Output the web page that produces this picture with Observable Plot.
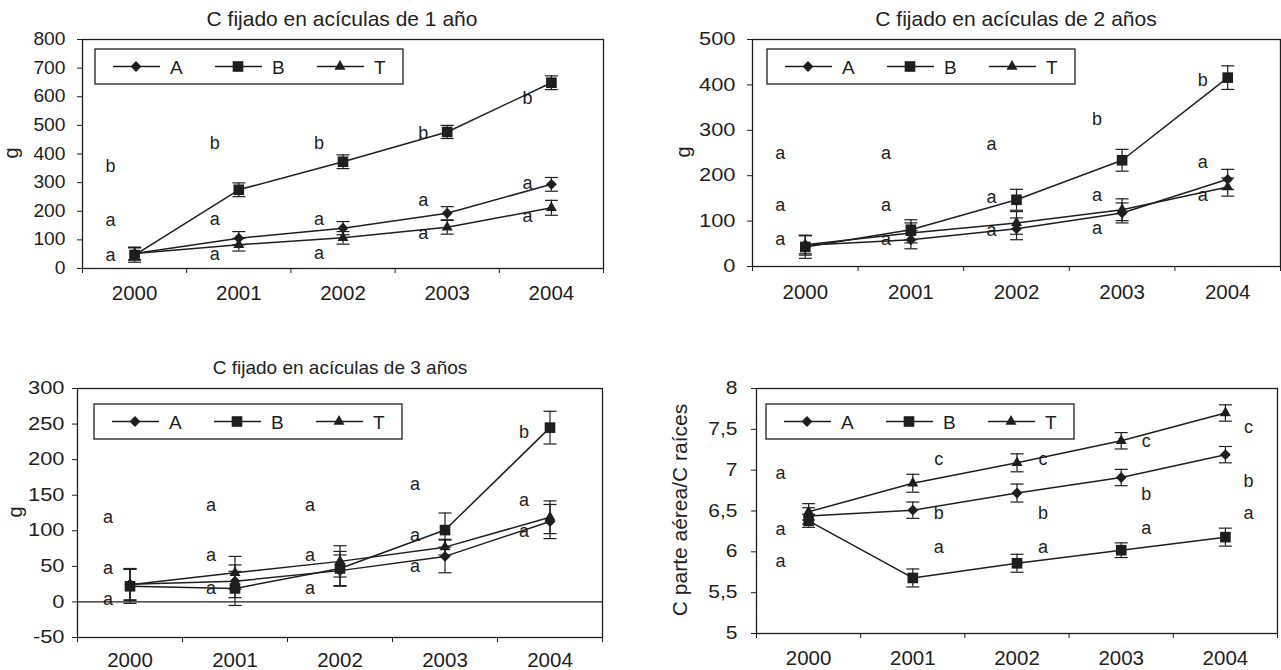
<!DOCTYPE html>
<html><head><meta charset="utf-8">
<script src="https://cdn.jsdelivr.net/npm/d3@7"></script>
<script src="https://cdn.jsdelivr.net/npm/@observablehq/plot@0.6"></script>
<style>
body{margin:0;background:#fff;font-family:"Liberation Sans",Arial,sans-serif;color:#222;}
#root{position:relative;width:1281px;height:670px;overflow:hidden;background:#fff;}
.title{position:absolute;white-space:nowrap;color:#222;transform:translateX(-50%);}
.ylab{position:absolute;white-space:nowrap;color:#222;line-height:1;transform:translate(-50%,-50%) rotate(-90deg);}
svg{position:absolute;overflow:visible;}
</style></head><body><div id="root"></div>
<script>
// ---------- data ----------
const years = [2000, 2001, 2002, 2003, 2004];
const seriesNames = ["A", "B", "T"];
const titles = ["C fijado en acículas de 1 año", "C fijado en acículas de 2 años", "C fijado en acículas de 3 años", ""];
const yLabels = ["g", "g", "g", "C parte aérea/C raíces"];

// Panel 1: C fijado en acículas de 1 año (g)
const p1A = [52, 106, 141, 193, 294];
const p1B = [47, 275, 373, 477, 649];
const p1T = [52, 83, 107, 144, 212];
const p1AErr = [22, 23, 23, 23, 24];
const p1BErr = [25, 24, 24, 23, 24];
const p1TErr = [22, 22, 22, 24, 26];
const p1Letters = [["b","a","a"],["b","a","a"],["b","a","a"],["b","a","a"],["b","a","a"]];
const p1LetterY = [[357,168,45],[436,173,49],[436,173,55],[474,238,124],[595,298,182]];
const p1Ticks = [0,100,200,300,400,500,600,700,800];

// Panel 2: C fijado en acículas de 2 años (g)
const p2A = [47, 59, 83, 118, 192];
const p2B = [43, 81, 147, 234, 416];
const p2T = [48, 74, 96, 125, 175];
const p2AErr = [22, 20, 24, 22, 22];
const p2BErr = [25, 22, 23, 24, 26];
const p2TErr = [20, 22, 25, 24, 20];
const p2Letters = [["a","a","a"],["a","a","a"],["a","a","a"],["b","a","a"],["b","a","a"]];
const p2LetterY = [[249,136,60],[249,136,60],[269,153,79],[324,158,85],[411,230,157]];
const p2Ticks = [0,100,200,300,400,500];

// Panel 3: C fijado en acículas de 3 años (g)
const p3A = [25, 29, 44, 64, 113];
const p3B = [22, 19, 47, 101, 245];
const p3T = [24, 41, 57, 77, 119];
const p3AErr = [22, 23, 22, 23, 24];
const p3BErr = [24, 24, 24, 24, 23];
const p3TErr = [22, 23, 22, 11, 23];
const p3Letters = [["a","a","a"],["a","a","a"],["a","a","a"],["a","a","a"],["b","a","a"]];
const p3LetterY = [[119,48,4],[136,66,19],[136,66,19],[166,94,50],[238,143,99]];
const p3Ticks = [-50,0,50,100,150,200,250,300];

// Panel 4: C parte aérea / C raíces
const p4A = [6.44, 6.51, 6.72, 6.91, 7.19];
const p4B = [6.38, 5.68, 5.86, 6.02, 6.18];
const p4T = [6.49, 6.84, 7.09, 7.36, 7.70];
const p4AErr = [0.10, 0.10, 0.11, 0.10, 0.10];
const p4BErr = [0.08, 0.11, 0.11, 0.09, 0.11];
const p4TErr = [0.10, 0.11, 0.11, 0.10, 0.10];
const p4Letters = [["a","a","a"],["c","b","a"],["c","b","a"],["c","b","a"],["c","b","a"]];
const p4LetterY = [[6.96,6.28,5.88],[7.13,6.47,6.06],[7.13,6.47,6.06],[7.36,6.70,6.29],[7.53,6.87,6.47]];
const p4Ticks = [5,5.5,6,6.5,7,7.5,8];

// ---------- layout / style ----------
const INK = "#1e1e1e";
const panels = [
  {vals:[p1A,p1B,p1T], errs:[p1AErr,p1BErr,p1TErr], letters:p1Letters, letterY:p1LetterY, ticks:p1Ticks, domain:[0,800],
   x0:0, y0:0, w:640, h:320, L:82, R:603, T:39, B:268, yPad:12, yK:1.1, xPad:17, zero:false, letterDx:[-24,-24,-24,-24,-24],
   title:{x:342, base:26, size:21}, ylab:{x:11, y:153, size:20}, legend:{x:95, y:49}, comma:false},
  {vals:[p2A,p2B,p2T], errs:[p2AErr,p2BErr,p2TErr], letters:p2Letters, letterY:p2LetterY, ticks:p2Ticks, domain:[0,500],
   x0:640, y0:0, w:641, h:320, L:752, R:1280, T:39, B:266, yPad:12, yK:1.25, xPad:18, zero:false, letterDx:[-25,-25,-25,-25,-25],
   title:{x:1016, base:26, size:21}, ylab:{x:683, y:152, size:20}, legend:{x:767, y:49}, comma:false},
  {vals:[p3A,p3B,p3T], errs:[p3AErr,p3BErr,p3TErr], letters:p3Letters, letterY:p3LetterY, ticks:p3Ticks, domain:[-50,300],
   x0:0, y0:320, w:640, h:350, L:77, R:602, T:388, B:637, yPad:8, yK:1.25, xPad:15, zero:true, letterDx:[-22,-24,-30,-30,-26],
   title:{x:340, base:374, size:19}, ylab:{x:15, y:512, size:20}, legend:{x:94, y:404}, comma:false},
  {vals:[p4A,p4B,p4T], errs:[p4AErr,p4BErr,p4TErr], letters:p4Letters, letterY:p4LetterY, ticks:p4Ticks, domain:[5,8],
   x0:640, y0:320, w:641, h:350, L:756, R:1277, T:388, B:633, yPad:14, yK:1.2, xPad:17, zero:false, letterDx:[-28,26,26,25,23],
   title:null, ylab:{x:679, y:510, size:21}, legend:{x:766, y:404}, comma:true}
];

const capSymbol = {draw(ctx, size){ const w = Math.sqrt(size / Math.PI); ctx.moveTo(-w, 0); ctx.lineTo(w, 0); }};
const markerSpec = {A:{symbol:"diamond2", r:4.9}, B:{symbol:"square", r:6.0}, T:{symbol:"triangle", r:4.1}};
const d3Sym = {A:d3.symbolDiamond2, B:d3.symbolSquare, T:d3.symbolTriangle};

const root = document.getElementById("root");

function drawPanel(cfg){
  const rows = [];
  seriesNames.forEach((s, i) => years.forEach((yr, j) => rows.push({year: yr, series: s, value: cfg.vals[i][j], err: cfg.errs[i][j]})));
  const letters = [];
  years.forEach((yr, j) => cfg.letters[j].forEach((l, m) => letters.push({year: yr, idx: j, letter: l, value: cfg.letterY[j][m]})));
  const bounds = years.map(y => y - 0.5).concat([years[years.length - 1] + 0.5]);
  const fmt = cfg.comma ? (d => String(d).replace(".", ",")) : (d => String(d));
  const marks = [
    Plot.frame({stroke: INK, strokeWidth: 1.3}),
    cfg.zero ? Plot.ruleY([0], {stroke: INK, strokeWidth: 1.2}) : null,
    Plot.axisY({ticks: cfg.ticks, tickSize: 5, tickPadding: cfg.yPad, fontSize: 17.5, tickFormat: fmt, label: null, stroke: INK, fill: INK}),
    Plot.axisX({ticks: bounds, tickSize: 5, tickFormat: () => "", label: null, stroke: INK}),
    Plot.axisX({ticks: years, tickSize: 0, tickPadding: cfg.xPad, fontSize: 20.5, tickFormat: d => String(d), label: null, fill: INK}),
    Plot.ruleX(rows, {x: "year", y1: d => d.value - d.err, y2: d => d.value + d.err, stroke: INK, strokeWidth: 1.2}),
    Plot.dot(rows, {x: "year", y: d => d.value + d.err, symbol: capSymbol, r: 6.5, fill: "none", stroke: INK, strokeWidth: 1.2}),
    Plot.dot(rows, {x: "year", y: d => d.value - d.err, symbol: capSymbol, r: 6.5, fill: "none", stroke: INK, strokeWidth: 1.2}),
    Plot.line(rows, {x: "year", y: "value", z: "series", stroke: INK, strokeWidth: 1.5}),
    ...seriesNames.map(s => Plot.dot(rows.filter(d => d.series === s), {x: "year", y: "value", symbol: markerSpec[s].symbol, r: markerSpec[s].r, fill: INK, stroke: "none"})),
    ...years.map((yr, j) => Plot.text(letters.filter(d => d.idx === j), {x: "year", y: "value", text: "letter", dx: cfg.letterDx[j], fontSize: 18, fill: INK, textAnchor: "middle", lineAnchor: "middle"}))
  ];
  const svg = Plot.plot({
    width: cfg.w, height: cfg.h,
    marginLeft: cfg.L - cfg.x0, marginRight: cfg.x0 + cfg.w - cfg.R,
    marginTop: cfg.T - cfg.y0, marginBottom: cfg.y0 + cfg.h - cfg.B,
    style: {fontFamily: '"Liberation Sans", Arial, sans-serif', color: INK, background: "transparent", overflow: "visible"},
    x: {domain: [bounds[0], bounds[bounds.length - 1]]},
    y: {domain: cfg.domain},
    marks
  });
  svg.style.left = cfg.x0 + "px";
  svg.style.top = cfg.y0 + "px";
  // widen y tick labels horizontally like the source figure
  svg.querySelectorAll('g[aria-label="y-axis tick label"] text').forEach(t => {
    let tr = t.getAttribute("transform");
    if (!tr) {
      const x = t.getAttribute("x") || 0, y = t.getAttribute("y") || 0;
      t.removeAttribute("x"); t.removeAttribute("y");
      tr = `translate(${x},${y})`;
    }
    t.setAttribute("transform", tr + ` scale(${cfg.yK},1)`);
  });
  root.appendChild(svg);

  if (cfg.title) {
    const d = document.createElement("div");
    d.className = "title";
    d.textContent = titles[panels.indexOf(cfg)];
    d.style.fontSize = cfg.title.size + "px";
    d.style.lineHeight = cfg.title.size + "px";
    d.style.left = cfg.title.x + "px";
    d.style.top = (cfg.title.base - 0.8465 * cfg.title.size) + "px";
    root.appendChild(d);
  }
  const yl = document.createElement("div");
  yl.className = "ylab";
  yl.textContent = yLabels[panels.indexOf(cfg)];
  yl.style.fontSize = cfg.ylab.size + "px";
  yl.style.left = cfg.ylab.x + "px";
  yl.style.top = cfg.ylab.y + "px";
  root.appendChild(yl);

  // legend box
  const lg = d3.create("svg").attr("width", 312).attr("height", 39)
    .style("left", (cfg.legend.x - 2) + "px").style("top", (cfg.legend.y - 2) + "px");
  lg.append("rect").attr("x", 2).attr("y", 2).attr("width", 308).attr("height", 35)
    .attr("fill", "#fff").attr("stroke", INK).attr("stroke-width", 1.3);
  seriesNames.forEach((s, i) => {
    const ox = 2 + i * 102, cy = 19.5;
    lg.append("line").attr("x1", ox + 18).attr("x2", ox + 65).attr("y1", cy).attr("y2", cy).attr("stroke", INK).attr("stroke-width", 1.5);
    const r = markerSpec[s].r;
    lg.append("path").attr("d", d3.symbol(d3Sym[s], Math.PI * r * r)()).attr("transform", `translate(${ox + 41},${cy})`).attr("fill", INK);
    lg.append("text").attr("x", ox + 75).attr("y", cy + 7).attr("font-size", 19).attr("fill", INK)
      .attr("font-family", '"Liberation Sans", Arial, sans-serif').text(s);
  });
  root.appendChild(lg.node());
}

panels.forEach(drawPanel);
</script>
</body></html>
